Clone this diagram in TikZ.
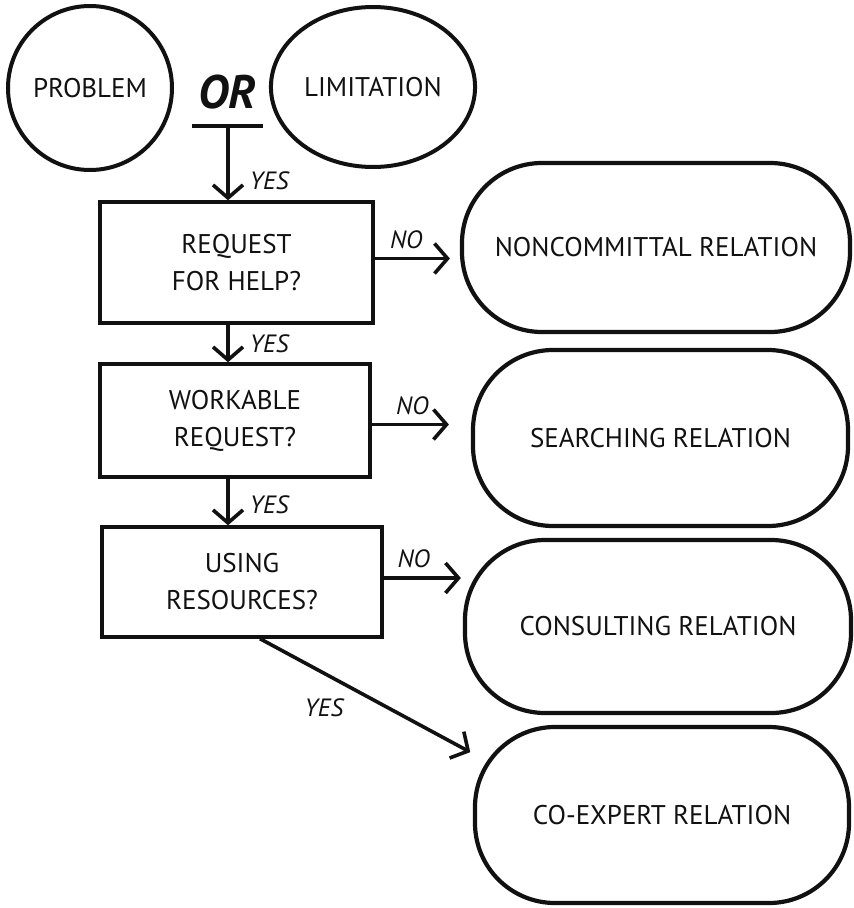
\documentclass[tikz,border=0pt]{standalone}
\usepackage{fontspec}
\setsansfont{PT Sans}
\usetikzlibrary{arrows.meta,calc,shapes.geometric}
\definecolor{ink}{HTML}{111111}
\tikzset{
  word/.style={font=\sffamily\fontsize{27}{37}\selectfont,text=ink,align=center},
  yesno/.style={font=\sffamily\itshape\fontsize{25}{27}\selectfont,text=ink,inner sep=2pt},
  orword/.style={font=\sffamily\bfseries\itshape\fontsize{47}{50}\selectfont,text=ink},
  start/.style={circle,draw=ink,line width=4pt,word},
  startell/.style={ellipse,draw=ink,line width=4pt,word},
  question/.style={rectangle,draw=ink,line width=3.4pt,word},
  outcome/.style={rectangle,rounded corners=80pt,draw=ink,line width=4.2pt,word},
  line/.style={draw=ink,line width=4pt},
  arr/.style={-{Straight Barb[length=13pt,width=30pt]},draw=ink,line width=3.6pt}
}
\begin{document}
\begin{tikzpicture}[x=1pt,y=-1pt]
\path[use as bounding box,fill=white] (0,0) rectangle (854,908);
% the two starting cases
\node[start,minimum size=164] (prob) at (90,88) {PROBLEM};
\node[startell,minimum width=183,minimum height=160] (lim) at (373,87) {LIMITATION};
\node[orword] (or) at (227,92) {OR};
\coordinate (orjoin) at (228,126);
\draw[line] ($(orjoin)+(-36,0)$) -- ($(orjoin)+(35,0)$);
% questions
\node[question,minimum width=273,minimum height=121] (q1) at (236.5,262.5) {REQUEST\\FOR HELP?};
\node[question,minimum width=270,minimum height=113] (q2) at (235,420.5) {WORKABLE\\REQUEST?};
\node[question,minimum width=280,minimum height=110] (q3) at (242,582) {USING\\RESOURCES?};
% outcomes
\node[outcome,minimum width=388,minimum height=169] (r1) at (656,247.5) {NONCOMMITTAL RELATION};
\node[outcome,minimum width=375,minimum height=176] (r2) at (660.5,438) {SEARCHING RELATION};
\node[outcome,minimum width=386,minimum height=173] (r3) at (658,626.5) {CONSULTING RELATION};
\node[outcome,minimum width=374,minimum height=176] (r4) at (662,815) {CO-EXPERT RELATION};
% yes branch
\draw[arr] (orjoin) -- (q1.north -| orjoin) node[yesno,pos=0.74,right=18pt] {YES};
\draw[arr] (q1.south -| orjoin) -- (q2.north -| orjoin) node[yesno,pos=0.5,right=18pt] {YES};
\draw[arr] (q2.south -| orjoin) -- (q3.north -| orjoin) node[yesno,pos=0.56,right=18pt] {YES};
\draw[arr,shorten >=3pt] ($(q3.south)+(18,0)$) -- (r4.162) node[yesno,pos=0.3,below=22pt] {YES};
% no branch
\draw[arr,shorten >=10pt] ($(q1.east)+(0,-4)$) -- ($(q1.east -| r1.west)+(0,-4)$) node[yesno,pos=0.37,above=6pt] {NO};
\draw[arr,shorten >=22pt] ($(q2.east)+(0,4)$) -- ($(q2.east -| r2.west)+(0,4)$) node[yesno,pos=0.41,above=6pt] {NO};
\draw[arr,shorten >=2pt] ($(q3.east)+(0,-4)$) -- ($(q3.east -| r3.west)+(0,-4)$) node[yesno,pos=0.38,above=6pt] {NO};
\end{tikzpicture}
\end{document}
